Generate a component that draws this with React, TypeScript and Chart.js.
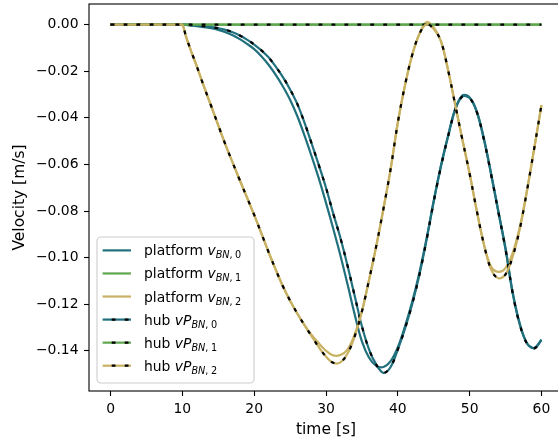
import React, { useEffect, useRef } from "react";
import { Chart, registerables } from "chart.js";

Chart.register(...registerables);

// ---------- data ----------
const timeSec = [0, 5, 9.5, 10, 10.5, 11, 12, 13, 14, 15, 16, 17, 18, 19, 20, 21, 22, 23, 24, 25, 26, 27, 28, 29, 30,
  31, 32, 33, 34, 35, 36, 37, 38, 39, 40, 41, 42, 43, 44, 45, 46, 47, 48, 49, 50, 51, 52, 53, 54, 55, 56, 57, 58, 59, 60];

const platformV0 = [0, 0, 0, 0, -0.0001,
  -0.0003, -0.0006, -0.0010, -0.0015, -0.0022, -0.0032, -0.0045, -0.0062, -0.0082, -0.0105,
  -0.0135, -0.0172, -0.0215, -0.0265, -0.0322, -0.0392, -0.0475, -0.0565, -0.0660, -0.0765,
  -0.0875, -0.0990, -0.1115, -0.1245, -0.1360, -0.1430, -0.1465, -0.1470, -0.1445, -0.1385,
  -0.1295, -0.1190, -0.1065, -0.0918, -0.0755, -0.0605, -0.0476, -0.0360, -0.0303, -0.0312,
  -0.0372, -0.0490, -0.0640, -0.0800, -0.0960, -0.1150, -0.1285, -0.1368, -0.1388, -0.1352];

const hubV0 = [0, 0, 0, 0, 0,
  -0.0001, -0.0003, -0.0006, -0.0010, -0.0015, -0.0022, -0.0032, -0.0046, -0.0064, -0.0085,
  -0.0110, -0.0140, -0.0180, -0.0225, -0.0278, -0.0340, -0.0420, -0.0510, -0.0603, -0.0700,
  -0.0810, -0.0915, -0.1035, -0.1165, -0.1295, -0.1395, -0.1460, -0.1495, -0.1470, -0.1395,
  -0.1305, -0.1200, -0.1075, -0.0925, -0.0760, -0.0610, -0.0480, -0.0365, -0.0308, -0.0315,
  -0.0375, -0.0495, -0.0645, -0.0805, -0.0965, -0.1155, -0.1290, -0.1370, -0.1390, -0.1355];

const platformV2 = [0, 0, 0, 0, -0.0050,
  -0.0095, -0.0178, -0.0265, -0.0348, -0.0432, -0.0515, -0.0592, -0.0668, -0.0742, -0.0817,
  -0.0896, -0.0976, -0.1052, -0.1123, -0.1185, -0.1240, -0.1290, -0.1332, -0.1368, -0.1400,
  -0.1420, -0.1418, -0.1395, -0.1330, -0.1230, -0.1095, -0.0950, -0.0790, -0.0620, -0.0420,
  -0.0260, -0.0130, -0.0040, 0.0012, -0.0012, -0.0070, -0.0195, -0.0345, -0.0495, -0.0640,
  -0.0800, -0.0945, -0.1040, -0.1061, -0.1045, -0.0980, -0.0867, -0.0710, -0.0530, -0.0345];

const hubV2 = [0, 0, 0, 0, -0.0050,
  -0.0095, -0.0178, -0.0265, -0.0348, -0.0432, -0.0515, -0.0592, -0.0668, -0.0742, -0.0817,
  -0.0896, -0.0976, -0.1052, -0.1123, -0.1185, -0.1240, -0.1290, -0.1338, -0.1385, -0.1425,
  -0.1452, -0.1450, -0.1412, -0.1338, -0.1232, -0.1095, -0.0950, -0.0790, -0.0620, -0.0420,
  -0.0260, -0.0130, -0.0040, 0.0002, -0.0018, -0.0070, -0.0195, -0.0345, -0.0495, -0.0640,
  -0.0800, -0.0945, -0.1052, -0.1089, -0.1072, -0.0995, -0.0875, -0.0710, -0.0530, -0.0345];

const flatTime = [0, 60];
const platformV1 = [0, 0];
const hubV1 = [0, 0];

const xTicks = [0, 10, 20, 30, 40, 50, 60];
const yTicks = [-0.14, -0.12, -0.1, -0.08, -0.06, -0.04, -0.02, 0];

const legendPrefixes = ["platform ", "platform ", "platform ", "hub ", "hub ", "hub "];
const legendSymbols = ["v", "v", "v", "vP", "vP", "vP"];
const legendSubs = ["BN", "BN", "BN", "BN", "BN", "BN"];
const legendIndices = ["0", "1", "2", "0", "1", "2"];

// ---------- styles ----------
const TEAL = "#21707d";
const GREEN = "#5ea74f";
const GOLD = "#c8b162";
const seriesColors = [TEAL, GREEN, GOLD, TEAL, GREEN, GOLD];
const FONT = "'DejaVu Sans', sans-serif";
const FS = 13.9;
const TFS = 15.5;
const LW = 2.2;
const DOTS = [3.8, 9.2];

function fmtY(v: number): string {
  const a = Math.abs(v).toFixed(2);
  return v < -1e-9 ? "\u2212" + a : a;
}

const framePlugin = {
  id: "frameLegend",
  afterDraw(chart: any) {
    const { ctx, chartArea: a } = chart;
    ctx.save();
    // spines
    ctx.strokeStyle = "#000";
    ctx.lineWidth = 1.1;
    ctx.strokeRect(a.left, a.top, a.right - a.left, a.bottom - a.top);

    // legend
    const bx = a.left + 8;
    const bw = 157;
    const bh = 146;
    const by = a.bottom - 8 - bh;
    const r = 4;
    ctx.beginPath();
    ctx.moveTo(bx + r, by);
    ctx.lineTo(bx + bw - r, by);
    ctx.arcTo(bx + bw, by, bx + bw, by + r, r);
    ctx.lineTo(bx + bw, by + bh - r);
    ctx.arcTo(bx + bw, by + bh, bx + bw - r, by + bh, r);
    ctx.lineTo(bx + r, by + bh);
    ctx.arcTo(bx, by + bh, bx, by + bh - r, r);
    ctx.lineTo(bx, by + r);
    ctx.arcTo(bx, by, bx + r, by, r);
    ctx.closePath();
    ctx.fillStyle = "rgba(255,255,255,0.8)";
    ctx.fill();
    ctx.strokeStyle = "#cccccc";
    ctx.lineWidth = 1.1;
    ctx.stroke();

    const hx0 = bx + 5.6;
    const hx1 = bx + 34;
    const tx = bx + 47;
    for (let i = 0; i < 6; i++) {
      const cy = by + 13.4 + i * 23.06;
      ctx.setLineDash([]);
      ctx.lineCap = "butt";
      ctx.strokeStyle = seriesColors[i];
      ctx.lineWidth = LW;
      ctx.beginPath();
      ctx.moveTo(hx0, cy);
      ctx.lineTo(hx1, cy);
      ctx.stroke();
      if (i >= 3) {
        ctx.strokeStyle = "#000";
        ctx.setLineDash(DOTS);
        ctx.lineDashOffset = 3.9;
        ctx.beginPath();
        ctx.moveTo(hx0, cy);
        ctx.lineTo(hx1, cy);
        ctx.stroke();
        ctx.setLineDash([]);
        ctx.lineDashOffset = 0;
      }
      // label text with math-like subscript
      const base = cy + 5;
      const subBase = base + 3;
      let x = tx;
      ctx.fillStyle = "#000";
      ctx.textBaseline = "alphabetic";
      ctx.textAlign = "left";
      ctx.font = `${FS}px ${FONT}`;
      ctx.fillText(legendPrefixes[i], x, base);
      x += ctx.measureText(legendPrefixes[i]).width;
      ctx.font = `italic ${FS}px ${FONT}`;
      ctx.fillText(legendSymbols[i], x, base);
      x += ctx.measureText(legendSymbols[i]).width;
      const sfs = FS * 0.7;
      ctx.font = `italic ${sfs}px ${FONT}`;
      ctx.fillText(legendSubs[i], x, subBase);
      x += ctx.measureText(legendSubs[i]).width;
      ctx.font = `${sfs}px ${FONT}`;
      ctx.fillText(",", x, subBase);
      x += ctx.measureText(",").width + sfs * 0.25;
      ctx.fillText(legendIndices[i], x, subBase);
    }
    ctx.restore();
  },
};

export default function App() {
  const ref = useRef<HTMLCanvasElement>(null);

  useEffect(() => {
    const canvas = ref.current!;
    const pts = (t: number[], v: number[]) => t.map((x, i) => ({ x, y: v[i] }));
    const series: Array<{ t: number[]; v: number[]; c: string; dots: boolean }> = [
      { t: timeSec, v: platformV0, c: TEAL, dots: false },
      { t: flatTime, v: platformV1, c: GREEN, dots: false },
      { t: timeSec, v: platformV2, c: GOLD, dots: false },
      { t: timeSec, v: hubV0, c: TEAL, dots: true },
      { t: flatTime, v: hubV1, c: GREEN, dots: true },
      { t: timeSec, v: hubV2, c: GOLD, dots: true },
    ];
    const datasets: any[] = [];
    series.forEach((s) => {
      datasets.push({
        data: pts(s.t, s.v),
        borderColor: s.c,
        borderWidth: LW,
        pointRadius: 0,
        tension: 0.35,
        fill: false,
        borderCapStyle: "butt",
      });
      if (s.dots) {
        datasets.push({
          data: pts(s.t, s.v),
          borderColor: "#000",
          borderWidth: LW,
          borderDash: DOTS,
          pointRadius: 0,
          tension: 0.35,
          fill: false,
          borderCapStyle: "butt",
        });
      }
    });
    const n = datasets.length;
    datasets.forEach((d, i) => (d.order = n - i));

    const font = { family: FONT, size: FS };
    const tfont = { family: FONT, size: TFS };
    const chart = new Chart(canvas, {
      type: "line",
      data: { datasets },
      options: {
        animation: false,
        responsive: false,
        devicePixelRatio: 1,
        layout: { padding: { top: 4, right: 2, left: 0, bottom: 0 } },
        plugins: { legend: { display: false }, tooltip: { enabled: false } },
        scales: {
          x: {
            type: "linear",
            min: -3,
            max: 63,
            afterBuildTicks: (s: any) => {
              s.ticks = xTicks.map((v) => ({ value: v }));
            },
            afterFit: (s: any) => {
              s.height = 54;
              s.paddingLeft = 0;
              s.paddingRight = 0;
              s.paddingTop = 0;
              s.paddingBottom = 0;
            },
            grid: { drawOnChartArea: false, drawTicks: true, tickLength: 5, tickColor: "#000", tickWidth: 1.1 },
            border: { display: false },
            ticks: { color: "#000", font, padding: 5, maxRotation: 0, autoSkip: false, callback: (v: any) => String(v) },
            title: { display: true, text: "time [s]", color: "#000", font: tfont, padding: { top: 0, bottom: 5.7 } },
          },
          y: {
            type: "linear",
            min: -0.1573,
            max: 0.0089,
            afterBuildTicks: (s: any) => {
              s.ticks = yTicks.map((v) => ({ value: v }));
            },
            afterFit: (s: any) => {
              s.width = 89;
              s.paddingLeft = 0;
              s.paddingRight = 0;
              s.paddingTop = 0;
              s.paddingBottom = 0;
            },
            grid: { drawOnChartArea: false, drawTicks: true, tickLength: 5, tickColor: "#000", tickWidth: 1.1 },
            border: { display: false },
            ticks: { color: "#000", font, padding: 5.5, autoSkip: false, callback: (v: any) => fmtY(Number(v)) },
            title: { display: true, text: "Velocity [m/s]", color: "#000", font: tfont, padding: { top: 10.5, bottom: 0 } },
          },
        },
      },
      plugins: [framePlugin],
    } as any);
    return () => chart.destroy();
  }, []);

  return (
    <div
      style={{
        position: "fixed",
        left: 0,
        top: 0,
        width: 558,
        height: 445,
        overflow: "hidden",
        background: "#fff",
      }}
    >
      <canvas ref={ref} width={565} height={445} style={{ display: "block", width: 565, height: 445 }} />
    </div>
  );
}
